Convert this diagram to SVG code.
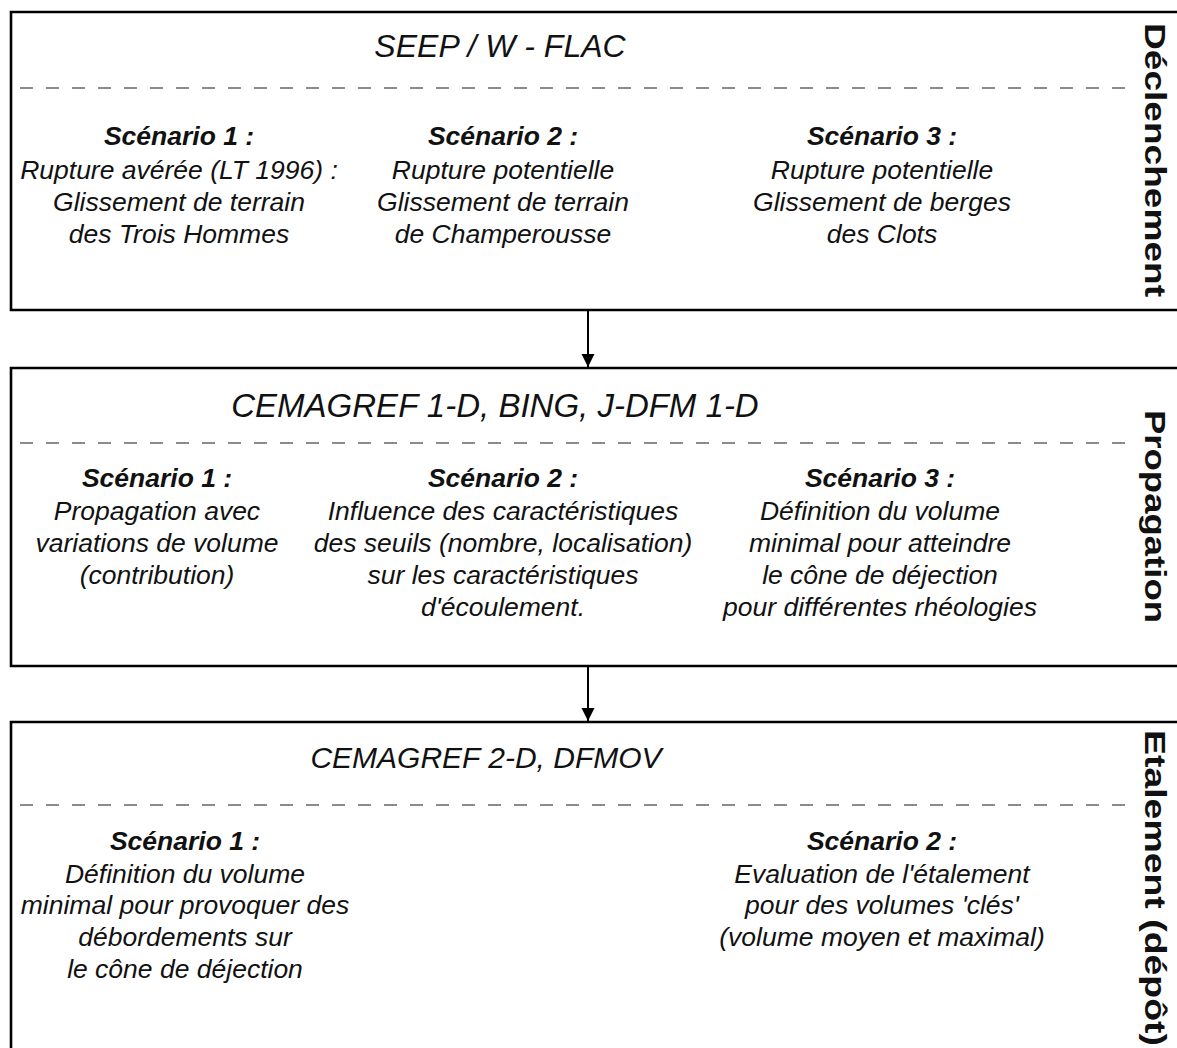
<svg xmlns="http://www.w3.org/2000/svg" width="1177" height="1048" viewBox="0 0 1177 1048">
<defs>
<style>
.box{fill:none;stroke:#000;stroke-width:2.6}
.dash{stroke:#666;stroke-width:1.6;stroke-dasharray:13 13}
.t{font-family:"Liberation Sans",Arial,sans-serif;fill:#111;text-anchor:middle}
.title{font-size:31px;font-style:italic}
.hd{font-size:26.5px;font-style:italic;font-weight:bold}
.bd{font-size:26.5px;font-style:italic}
.side{font-size:30px;font-weight:bold}
.conn{stroke:#000;stroke-width:2}
</style>
<marker id="ah" viewBox="0 0 10 10" refX="10" refY="5" markerWidth="13" markerHeight="23" markerUnits="userSpaceOnUse" orient="auto">
<path d="M0,0 L10,5 L0,10 z" fill="#000"/>
</marker>
</defs>
<rect width="1177" height="1048" fill="#fff"/>

<g id="declenchement">
<path class="box" d="M1177,12 H11 V310 H1177"/>
<line class="dash" x1="20" y1="88" x2="1130" y2="88"/>
<text class="t title" x="500" y="57" style="font-size:32px">SEEP / W - FLAC</text>
<text class="t hd" x="179" y="145">Scénario 1 :</text>
<text class="t bd" x="179" y="179">Rupture avérée (LT 1996) :</text>
<text class="t bd" x="179" y="211">Glissement de terrain</text>
<text class="t bd" x="179" y="243">des Trois Hommes</text>
<text class="t hd" x="503" y="145">Scénario 2 :</text>
<text class="t bd" x="503" y="179">Rupture potentielle</text>
<text class="t bd" x="503" y="211">Glissement de terrain</text>
<text class="t bd" x="503" y="243">de Champerousse</text>
<text class="t hd" x="882" y="145">Scénario 3 :</text>
<text class="t bd" x="882" y="179">Rupture potentielle</text>
<text class="t bd" x="882" y="211">Glissement de berges</text>
<text class="t bd" x="882" y="243">des Clots</text>
<text class="t side" transform="translate(1145,160) rotate(90)" textLength="274" lengthAdjust="spacingAndGlyphs">Déclenchement</text>
</g>

<g id="propagation">
<path class="box" d="M1177,368 H11 V666 H1177"/>
<line class="dash" x1="20" y1="443" x2="1130" y2="443"/>
<text class="t title" x="495" y="417" style="font-size:33px">CEMAGREF 1-D, BING, J-DFM 1-D</text>
<text class="t hd" x="157" y="487">Scénario 1 :</text>
<text class="t bd" x="157" y="520">Propagation avec</text>
<text class="t bd" x="157" y="552">variations de volume</text>
<text class="t bd" x="157" y="584">(contribution)</text>
<text class="t hd" x="503" y="487">Scénario 2 :</text>
<text class="t bd" x="503" y="520">Influence des caractéristiques</text>
<text class="t bd" x="503" y="552">des seuils (nombre, localisation)</text>
<text class="t bd" x="503" y="584">sur les caractéristiques</text>
<text class="t bd" x="503" y="616">d'écoulement.</text>
<text class="t hd" x="880" y="487">Scénario 3 :</text>
<text class="t bd" x="880" y="520">Définition du volume</text>
<text class="t bd" x="880" y="552">minimal pour atteindre</text>
<text class="t bd" x="880" y="584">le cône de déjection</text>
<text class="t bd" x="880" y="616">pour différentes rhéologies</text>
<text class="t side" transform="translate(1145,516.5) rotate(90)" textLength="213" lengthAdjust="spacingAndGlyphs">Propagation</text>
</g>

<g id="etalement">
<path class="box" d="M1177,722 H11 V1060"/>
<line class="dash" x1="20" y1="805" x2="1130" y2="805"/>
<text class="t title" x="486" y="768" style="font-size:30px">CEMAGREF 2-D, DFMOV</text>
<text class="t hd" x="185" y="850">Scénario 1 :</text>
<text class="t bd" x="185" y="883">Définition du volume</text>
<text class="t bd" x="185" y="914">minimal pour provoquer des</text>
<text class="t bd" x="185" y="946">débordements sur</text>
<text class="t bd" x="185" y="978">le cône de déjection</text>
<text class="t hd" x="882" y="850">Scénario 2 :</text>
<text class="t bd" x="882" y="883">Evaluation de l'étalement</text>
<text class="t bd" x="882" y="914">pour des volumes 'clés'</text>
<text class="t bd" x="882" y="946">(volume moyen et maximal)</text>
<text class="t side" transform="translate(1145,888) rotate(90)" textLength="316" lengthAdjust="spacingAndGlyphs">Etalement (dépôt)</text>
</g>

<g id="connectors">
<line class="conn" x1="588" y1="311" x2="588" y2="367" marker-end="url(#ah)"/>
<line class="conn" x1="588" y1="667" x2="588" y2="721" marker-end="url(#ah)"/>
</g>
</svg>
